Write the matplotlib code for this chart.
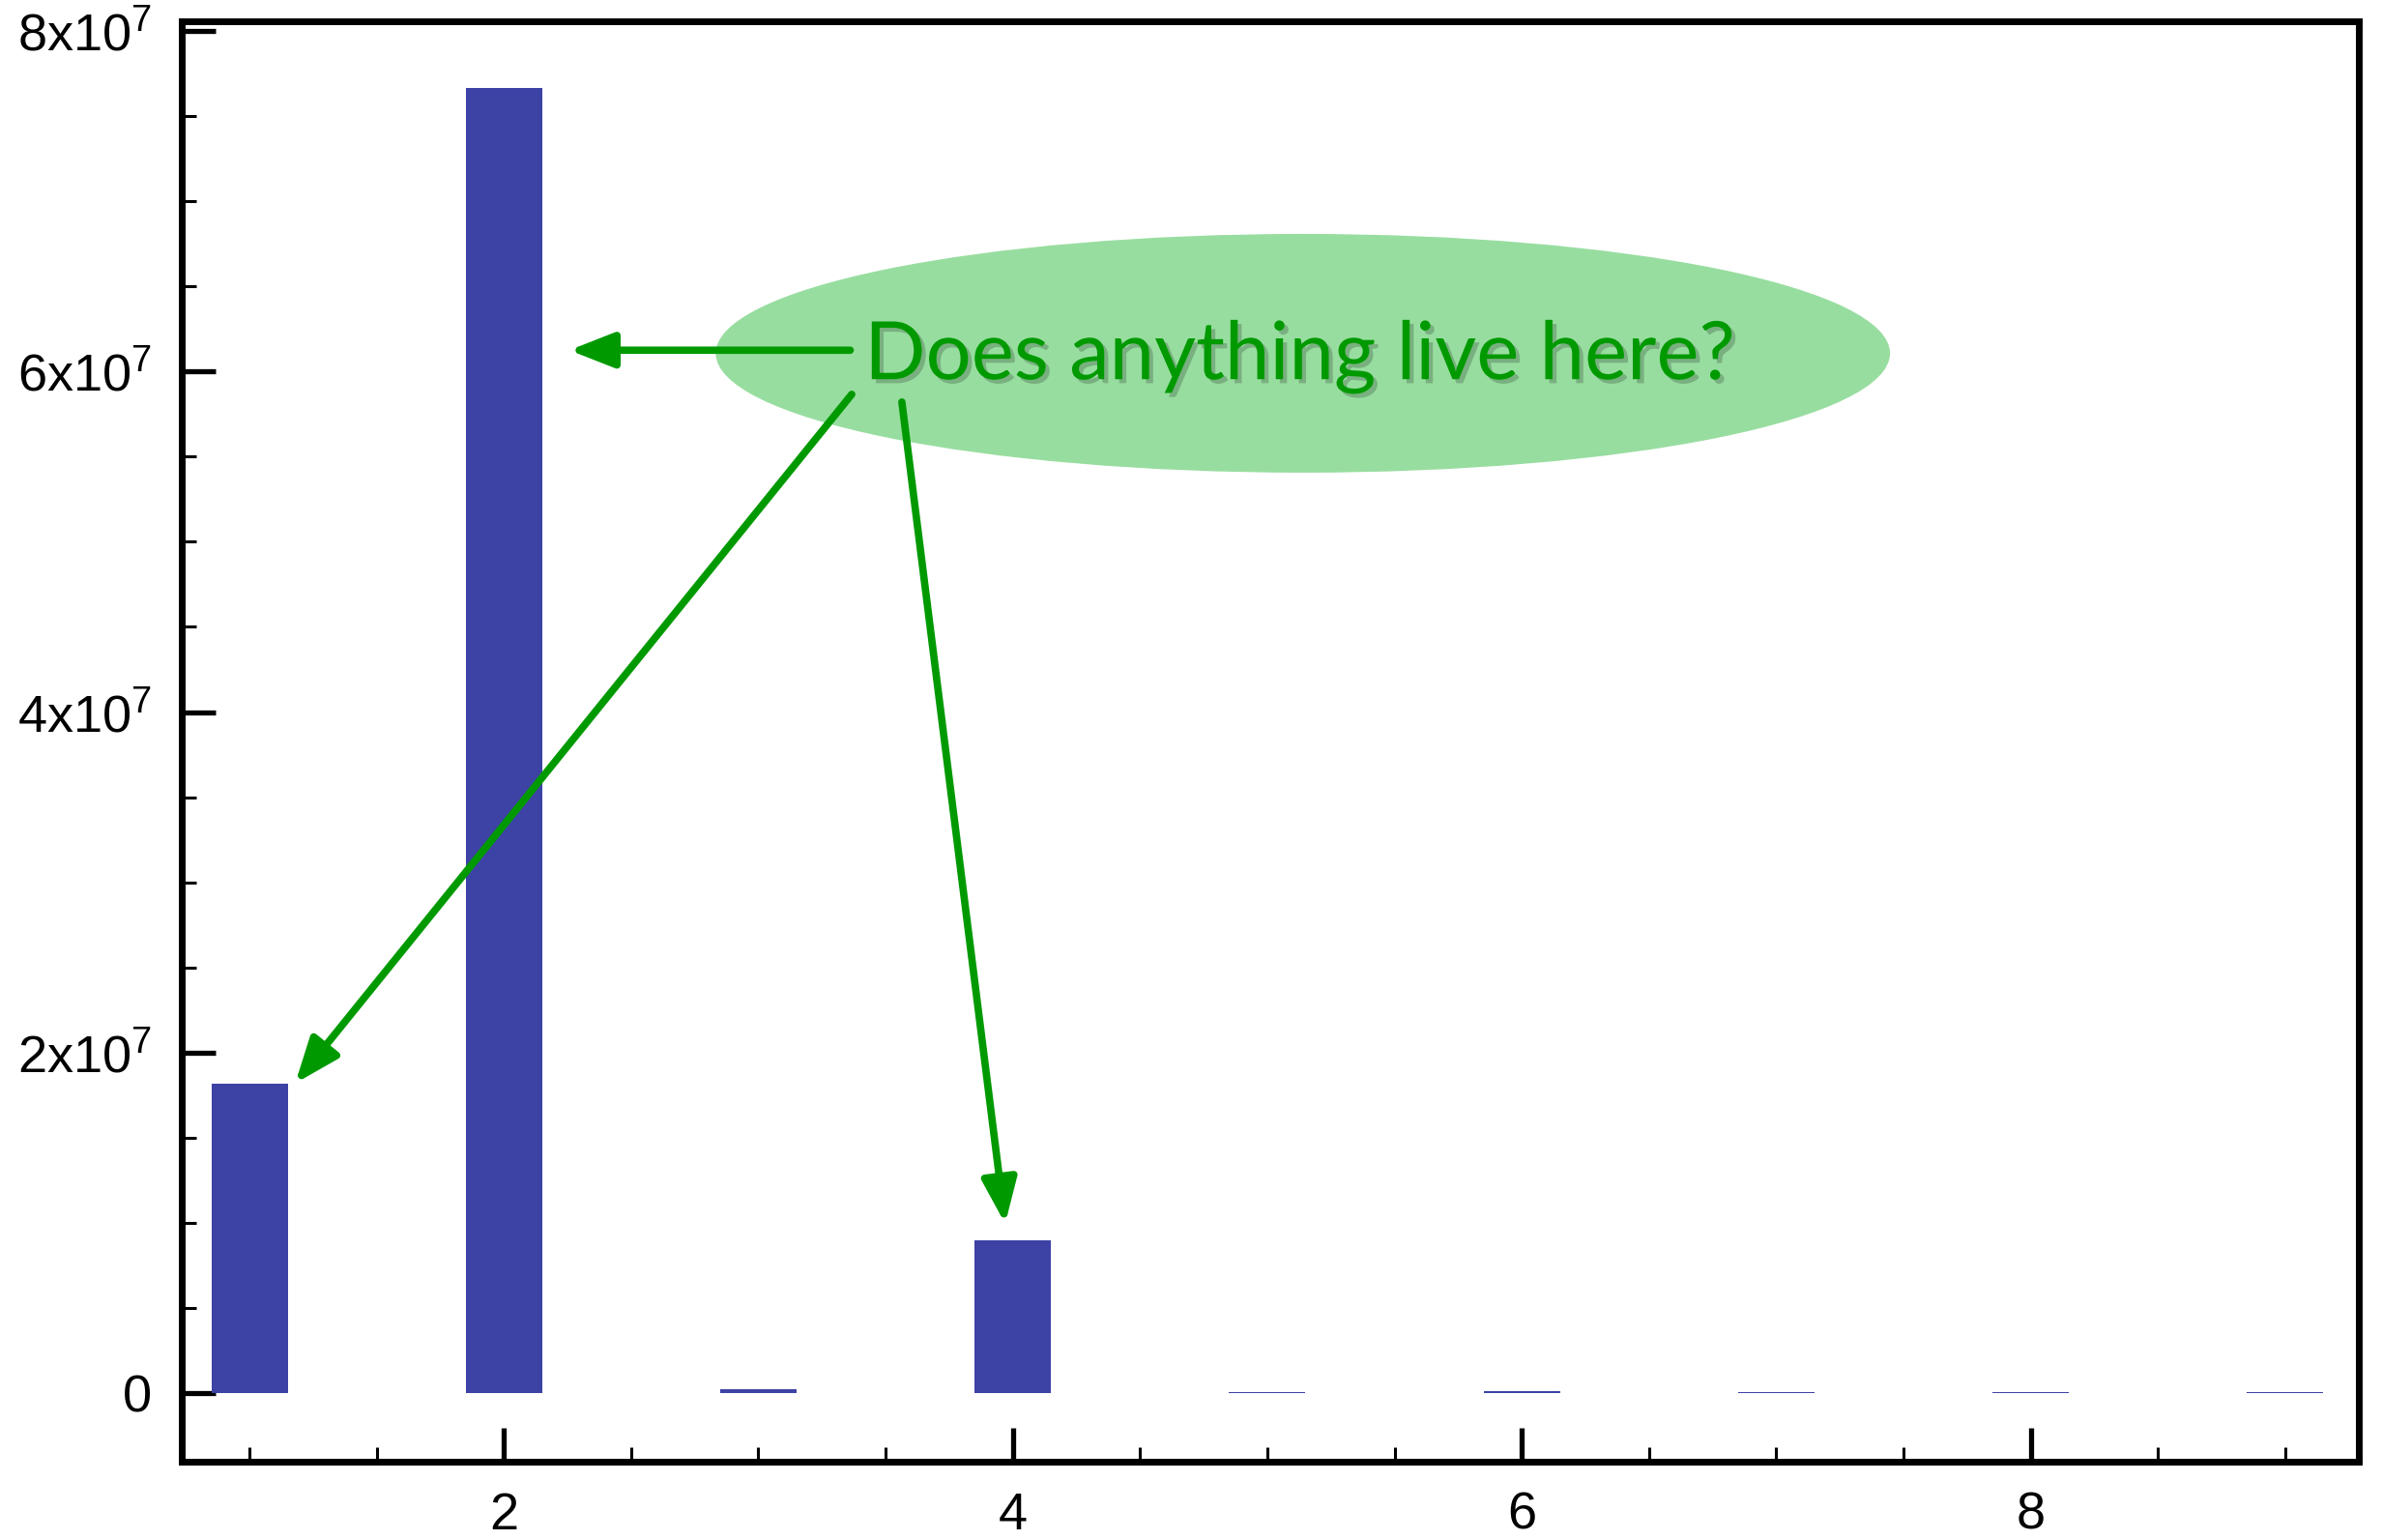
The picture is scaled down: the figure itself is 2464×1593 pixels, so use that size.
import matplotlib
matplotlib.use("Agg")
import matplotlib.pyplot as plt
import matplotlib.ticker as ticker
import matplotlib.patheffects as pe
from matplotlib.patches import Ellipse

# bar data
positions = [1, 2, 3, 4, 5, 6, 7, 8, 9]
counts = [1.82e7, 7.665e7, 2.1e5, 8.95e6, 6e4, 1.1e5, 6e4, 6e4, 6e4]

note = "Does anything live here?"

plt.rcParams['font.family'] = ['Liberation Sans', 'DejaVu Sans']
plt.rcParams['mathtext.fontset'] = 'custom'
plt.rcParams['mathtext.rm'] = 'Liberation Sans'

fig = plt.figure(figsize=(24.64, 15.93), dpi=100)
ax = fig.add_axes([0.0763, 0.0508, 0.914, 0.9354])

ax.bar(positions, counts, width=0.3, color='#3d42a5', zorder=2)

ax.set_xlim(0.734, 9.29)
ax.set_ylim(-4.03e6, 8.057e7)

ax.xaxis.set_major_locator(ticker.MultipleLocator(2))
ax.xaxis.set_minor_locator(ticker.MultipleLocator(0.5))
ax.yaxis.set_major_locator(ticker.MultipleLocator(2e7))
ax.yaxis.set_minor_locator(ticker.MultipleLocator(5e6))


def sci(v, pos):
    if v == 0:
        return '0'
    return r'$\mathregular{%dx10^{7}}$' % round(v / 1e7)


ax.yaxis.set_major_formatter(ticker.FuncFormatter(sci))

for s in ax.spines.values():
    s.set_linewidth(5)
ax.tick_params(which='major', direction='in', length=25, width=3.8,
               labelsize=39, top=False, right=False)
ax.tick_params(which='minor', direction='in', length=11, width=2.2,
               top=False, right=False)
ax.tick_params(axis='x', which='major', pad=22)
ax.tick_params(axis='y', which='major', pad=22)

# callout bubble
green = '#009a00'
ax.add_patch(Ellipse((5.14, 6.107e7), 4.615, 1.402e7, facecolor='#98dda0',
                     edgecolor='none', zorder=3))
txt = ax.text(5.13, 5.955e7, note, fontsize=60, color=green,
              family=['Lato', 'DejaVu Sans'], ha='center', va='baseline', zorder=5)
txt.set_path_effects([pe.SimplePatchShadow(offset=(3, -3), shadow_rgbFace='k', alpha=0.2),
                      pe.Normal()])

arrow = dict(arrowstyle='-|>,head_length=1.4,head_width=0.55', color=green,
             lw=5.5, shrinkA=0, shrinkB=0, mutation_scale=20)
ax.annotate('', xy=(2.257, 6.125e7), xytext=(3.361, 6.125e7),
            arrowprops=arrow, zorder=4)
ax.annotate('', xy=(positions[0] + 0.18, counts[0]), xytext=(3.367, 5.866e7),
            arrowprops=arrow, zorder=4)
ax.annotate('', xy=(positions[3] - 0.03, counts[3] + 1.0e6), xytext=(3.564, 5.821e7),
            arrowprops=arrow, zorder=4)

fig.savefig('out.png', dpi=100)
